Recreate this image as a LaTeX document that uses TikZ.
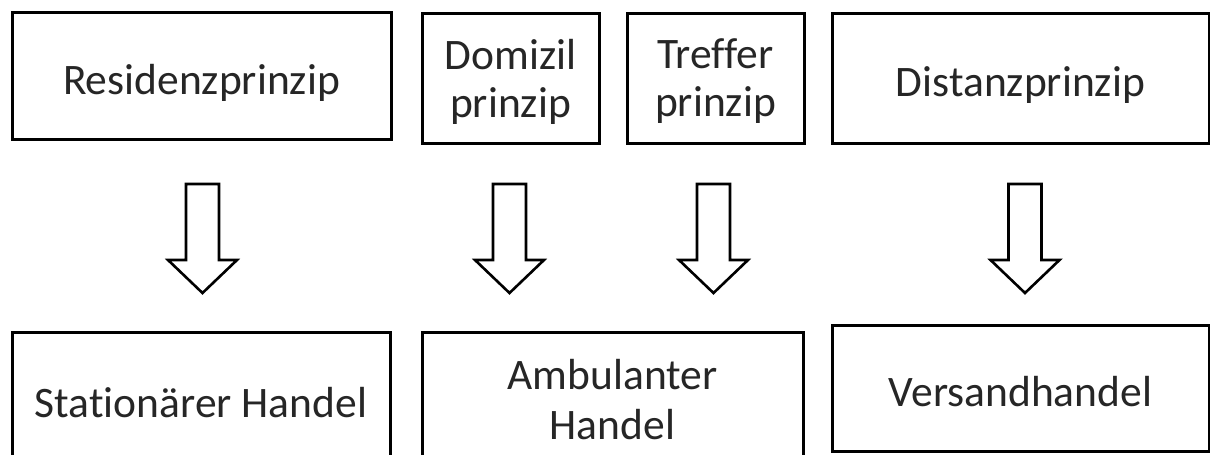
\documentclass[tikz,border=0pt]{standalone}
\usepackage{fontspec}
\setmainfont{Carlito}[Ligatures={NoCommon,NoDiscretionary,NoRare}]
\begin{document}
\begin{tikzpicture}[x=1pt,y=-1pt,
  box/.style={draw=black,line width=3pt,fill=white,inner sep=0pt,align=center,
    font=\fontsize{43.5}{46}\selectfont,text=black!85},
  oneline/.style={text height=37pt,text depth=0pt},
  twoline/.style={text depth=-4pt,font=\fontsize{43.5}{48}\selectfont},
  arrowline/.style={draw=black,line width=2.6pt,fill=white,line join=miter},
  dnarrow/.pic={\path[arrowline] (-16.5,0) -- (-16.5,76) -- (-34.5,76) -- (0,109)
      -- (34.5,76) -- (16.5,76) -- (16.5,0) -- cycle;}]
\useasboundingbox (0,0) rectangle (1210,455);

% principles (top row)
\node[box,oneline,minimum width=379pt,minimum height=127pt] (res) at (201.5,75.5) {Residenzprinzip};
\node[box,twoline,minimum width=177pt,minimum height=130pt] (dom) at (510.5,78) {Domizil\\prinzip};
\node[box,twoline,minimum width=177pt,minimum height=130pt] (tre) at (715.5,78) {Treffer\\prinzip};
\node[box,oneline,minimum width=377pt,minimum height=130pt] (dis) at (1020.5,78) {Distanzprinzip};

% forms of trade (bottom row)
\node[box,oneline,minimum width=378pt,minimum height=134pt] (sta) at (201,399) {Stationärer Handel};
\node[box,minimum width=381pt,minimum height=136pt,font=\fontsize{43.5}{50}\selectfont] (amb) at (612.5,400) {Ambulanter\\Handel};
\node[box,oneline,minimum width=377pt,minimum height=126pt] (ver) at (1020.5,388) {Versandhandel};

% block arrows between the rows
\coordinate (a1) at (202.5,184);
\coordinate (a2) at (509.5,184);
\coordinate (a3) at (713.5,184);
\coordinate (a4) at (1025,184);
\pic at (a1) {dnarrow};
\pic at (a2) {dnarrow};
\pic at (a3) {dnarrow};
\pic at (a4) {dnarrow};
\end{tikzpicture}
\end{document}
